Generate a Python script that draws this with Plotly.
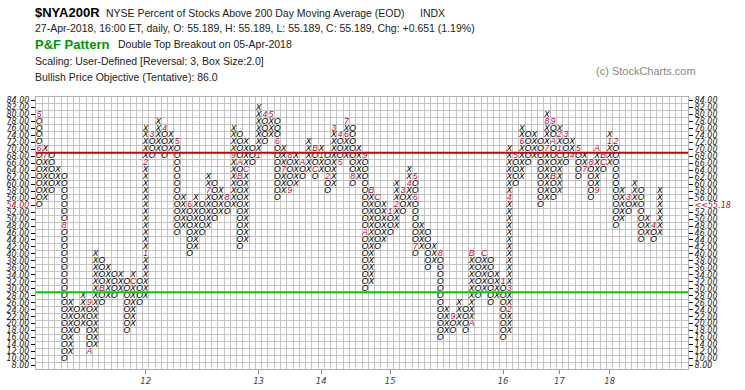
import plotly.graph_objects as go

# ---------------- data ----------------
BOX = 2
col_type = list("OXOXOXOXOXOXOXOXOXOXOXOXOXOXOXOXOXOXOXOXOXOXOXOXOXOXOXOXOXOXOXOXOXOXOXOXOXOXOXOXOXOXOXOXOXOXOXOXOXOX")
col_bottom = [54, 56, 58, 60, 10, 12, 18, 20, 12, 14, 26, 28, 28, 30, 18, 20, 26, 28, 68, 70,
              68, 70, 46, 48, 40, 42, 46, 48, 50, 52, 52, 54, 42, 44, 66, 68, 72, 74, 56, 58,
              58, 60, 62, 64, 62, 64, 58, 60, 66, 68, 60, 62, 30, 32, 42, 44, 46, 48, 52, 54,
              40, 42, 36, 38, 16, 18, 18, 20, 18, 20, 28, 30, 26, 28, 16, 18, 60, 62, 66, 68,
              54, 56, 56, 58, 66, 68, 62, 64, 56, 58, 64, 66, 48, 50, 52, 54, 44, 46, 44, 46]
col_top = [80, 70, 68, 64, 62, 26, 24, 28, 26, 40, 38, 36, 34, 34, 32, 34, 32, 76, 74, 78,
           76, 74, 72, 56, 54, 56, 54, 62, 60, 58, 56, 76, 74, 72, 70, 82, 80, 80, 78, 70,
           68, 68, 66, 72, 70, 70, 68, 76, 74, 78, 76, 70, 68, 58, 56, 54, 52, 60, 58, 64,
           62, 48, 46, 42, 40, 24, 22, 26, 24, 40, 38, 40, 38, 34, 32, 70, 68, 76, 74, 74,
           72, 80, 78, 76, 74, 72, 70, 68, 66, 70, 68, 74, 72, 58, 56, 60, 58, 50, 48, 58]

month_col = [1, 1, 2, 5, 9, 9, 11, 16, 18, 18, 19, 21, 23, 25, 28, 31, 32, 33, 33, 34,
             36, 37, 38, 39, 40, 41, 41, 43, 45, 45, 46, 47, 48, 49, 49, 50, 50, 51, 53, 53,
             54, 55, 57, 58, 59, 60, 61, 61, 61, 65, 67, 70, 70, 72, 75, 76, 76, 76, 77, 78,
             82, 82, 83, 83, 83, 84, 84, 84, 85, 86, 87, 88, 89, 90, 90, 91, 91, 92, 93, 95, 99]
month_val = [80, 70, 68, 48, 26, 12, 30, 32, 40, 66, 74, 76, 72, 54, 58, 56, 68, 66, 62, 64,
             68, 80, 80, 72, 64, 68, 58, 66, 70, 64, 68, 62, 76, 74, 66, 74, 78, 62, 68, 46,
             58, 56, 52, 54, 58, 60, 62, 56, 42, 40, 22, 20, 40, 40, 32, 24, 30, 56, 68, 72,
             70, 78, 78, 72, 62, 68, 70, 74, 74, 68, 70, 64, 66, 58, 70, 68, 66, 72, 72, 56, 48]
month_lab = ["5", "6", "7", "8", "9", "A", "B", "C", "1", "2", "3", "4", "5", "6", "7", "8", "9", "A", "B", "C",
             "1", "4", "5", "6", "7", "8", "9", "A", "B", "C", "1", "2", "3", "4", "5", "6", "7", "8", "9", "A",
             "B", "C", "1", "2", "3", "4", "5", "6", "7", "8", "9", "A", "B", "C", "1", "2", "3", "4", "5", "6",
             "7", "8", "9", "A", "B", "C", "1", "2", "3", "4", "5", "7", "8", "9", "A", "B", "C", "1", "2", "3", "4"]

year_labels = ["12", "13", "14", "15", "16", "17", "18"]
resistance = 69
support = 29
last_price = 55.18
y_min, y_max = 8, 84
grid_cols = 104

# ---------------- build marks ----------------
label_at = {(c, v): t for c, v, t in zip(month_col, month_val, month_lab)}
xs_x, ys_x, xs_o, ys_o = [], [], [], []
for i, (t, b, tp) in enumerate(zip(col_type, col_bottom, col_top), start=1):
    for v in range(b, tp + 1, BOX):
        if (i, v) in label_at:
            continue
        if t == "X":
            xs_x.append(i); ys_x.append(v)
        else:
            xs_o.append(i); ys_o.append(v)

year_cols = [c for c, t in zip(month_col, month_lab) if t == "1"]

RED = "#cc0033"
XMAX = grid_cols + 0.5
fig = go.Figure()
sym_font = dict(family="Liberation Sans", size=8.5, color="#000000", style="italic")
fig.add_trace(go.Scatter(x=xs_x, y=ys_x, mode="text", text=["X"] * len(xs_x),
                         textfont=sym_font, hoverinfo="skip", showlegend=False))
fig.add_trace(go.Scatter(x=xs_o, y=ys_o, mode="text", text=["O"] * len(xs_o),
                         textfont=sym_font, hoverinfo="skip", showlegend=False))
fig.add_trace(go.Scatter(x=month_col, y=month_val, mode="text", text=month_lab,
                         textfont=dict(family="Liberation Sans", size=8.5, color=RED, style="italic"),
                         hoverinfo="skip", showlegend=False))
# invisible traces for the label axes
fig.add_trace(go.Scatter(x=[1], y=[y_min], xaxis="x2", yaxis="y2", mode="markers",
                         marker=dict(opacity=0), hoverinfo="skip", showlegend=False))
fig.add_trace(go.Scatter(x=[1], y=[y_min], xaxis="x", yaxis="y3", mode="markers",
                         marker=dict(opacity=0), hoverinfo="skip", showlegend=False))

fig.add_shape(type="line", xref="x", yref="y", x0=0.2, x1=XMAX, y0=resistance, y1=resistance,
              line=dict(color="#cc0000", width=2))
fig.add_shape(type="line", xref="x", yref="y", x0=0.2, x1=XMAX, y0=support, y1=support,
              line=dict(color="#00cc00", width=2))

yvals = list(range(y_min, y_max + 1, BOX))
left_text = [f"<span style='color:{RED}'>{v:.2f}</span>" if v == 54 else f"{v:.2f}" for v in yvals]
right_text = [f"<span style='color:{RED}'>&lt;&lt;{last_price:.2f}</span>" if v == 54 else f"{v:.2f}"
              for v in yvals]
lab_font = dict(family="DejaVu Sans", size=8, color="#222222", style="italic")

ML, MR, MT, MB = 36, 57, 97, 21
fig.update_layout(
    width=745, height=390,
    margin=dict(l=ML, r=MR, t=MT, b=MB, autoexpand=False),
    paper_bgcolor="white", plot_bgcolor="white",
    xaxis=dict(range=[0.5, XMAX], tickmode="linear", tick0=0.5, dtick=1, showticklabels=False,
               showgrid=True, gridcolor="#c4c4c4", gridwidth=1, zeroline=False, automargin=False,
               showline=True, linecolor="#b0b0b0", mirror=True, ticks="", fixedrange=True),
    xaxis2=dict(range=[0.5, XMAX], overlaying="x", side="bottom", tickmode="array",
                tickvals=year_cols, ticktext=year_labels, ticks="outside", ticklen=4,
                tickcolor="#888888", showgrid=False, zeroline=False, automargin=False,
                tickfont=dict(family="DejaVu Sans", size=8.5, color="#444444", style="italic")),
    yaxis=dict(range=[y_min - 1, y_max + 1], tickmode="linear", tick0=y_min - 1, dtick=BOX,
               showticklabels=False, showgrid=True, gridcolor="#c4c4c4", gridwidth=1, automargin=False,
               zeroline=False, showline=True, linecolor="#b0b0b0", mirror=True, ticks="", fixedrange=True),
    yaxis2=dict(range=[y_min - 1, y_max + 1], overlaying="y", side="left", tickmode="array",
                tickvals=yvals, ticktext=left_text, ticks="outside", ticklen=4, tickcolor="#000000",
                showgrid=False, zeroline=False, tickfont=lab_font, automargin=False),
    yaxis3=dict(range=[y_min - 1, y_max + 1], overlaying="y", side="right", tickmode="array",
                tickvals=yvals, ticktext=right_text, ticks="outside", ticklen=4, tickcolor="#000000",
                showgrid=False, zeroline=False, tickfont=lab_font, automargin=False),
)

PW = 745 - ML - MR
PH = 390 - MT - MB

def px(xp):
    return (xp - ML) / PW

def py(yp):
    return (390 - MB - yp) / PH

ann = [
    dict(x=px(33), y=py(12), text="<b>$NYA200R</b>", font=dict(family="Liberation Sans", size=13, color="#000")),
    dict(x=px(104), y=py(13), text="NYSE Percent of Stocks Above 200 Day Moving Average (EOD)",
         font=dict(family="Liberation Sans", size=10.5, color="#222")),
    dict(x=px(418), y=py(13), text="INDX", font=dict(family="Liberation Sans", size=10.5, color="#222")),
    dict(x=px(33), y=py(28), text="27-Apr-2018, 16:00 ET, daily, O: 55.189, H: 55.189, L: 55.189, C: 55.189, Chg: +0.651 (1.19%)",
         font=dict(family="Liberation Sans", size=10.5, color="#222")),
    dict(x=px(33), y=py(44), text="<b>P&F Pattern</b>", font=dict(family="Liberation Sans", size=13, color="#009900")),
    dict(x=px(116), y=py(44), text="Double Top Breakout on 05-Apr-2018",
         font=dict(family="Liberation Sans", size=10.5, color="#222")),
    dict(x=px(33), y=py(61), text="Scaling: User-Defined [Reversal: 3, Box Size:2.0]",
         font=dict(family="Liberation Sans", size=10.5, color="#222")),
    dict(x=px(33), y=py(77), text="Bullish Price Objective (Tentative): 86.0",
         font=dict(family="Liberation Sans", size=10.5, color="#222")),
    dict(x=px(594), y=py(71), text="(c) StockCharts.com", font=dict(family="Liberation Sans", size=11, color="#888")),
]
for a in ann:
    a.update(xref="paper", yref="paper", xanchor="left", yanchor="middle", showarrow=False)
fig.update_layout(annotations=ann)

fig.write_html("out.html", config={"displayModeBar": False, "staticPlot": True},
               post_script="document.body.style.margin='0';")
